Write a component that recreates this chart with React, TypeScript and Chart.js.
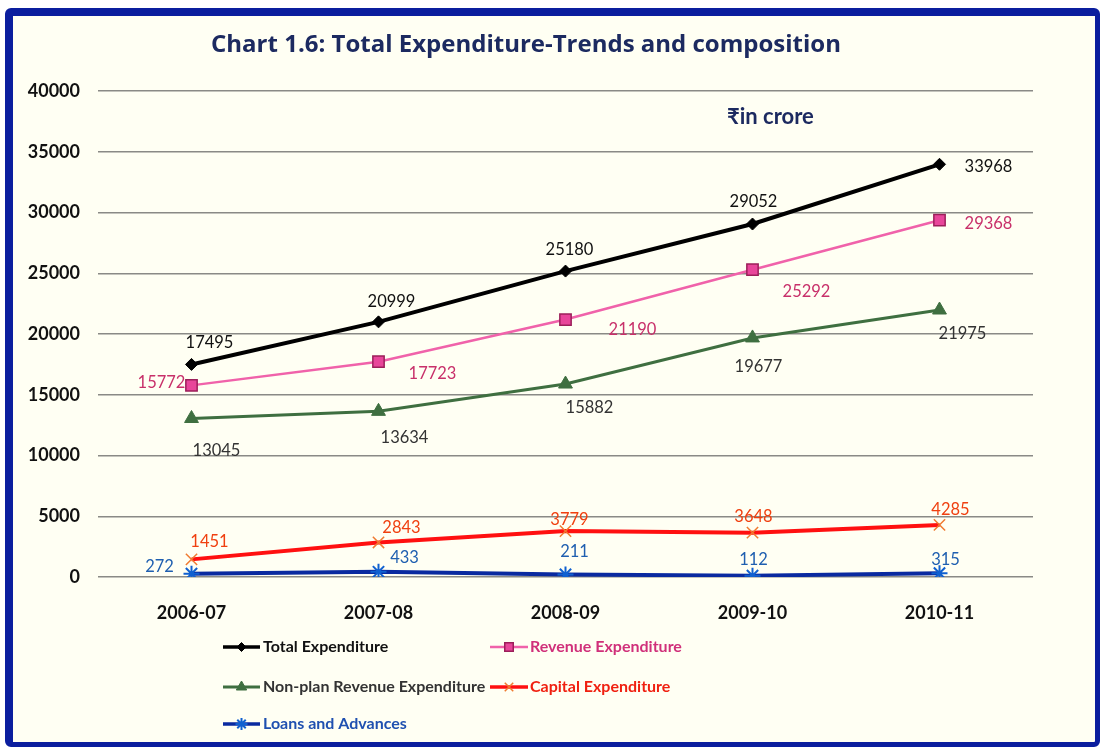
import React, { useEffect, useRef } from "react";
import { Chart, registerables } from "chart.js";
import { drawPoint } from "chart.js/helpers";

Chart.register(...registerables);

const categories = ["2006-07", "2007-08", "2008-09", "2009-10", "2010-11"];
const totalExpenditure = [17495, 20999, 25180, 29052, 33968];
const revenueExpenditure = [15772, 17723, 21190, 25292, 29368];
const nonPlanRevenueExpenditure = [13045, 13634, 15882, 19677, 21975];
const capitalExpenditure = [1451, 2843, 3779, 3648, 4285];
const loansAndAdvances = [272, 433, 211, 112, 315];
const yTicks = [0, 5000, 10000, 15000, 20000, 25000, 30000, 35000, 40000];

const seriesNames = [
  "Total Expenditure",
  "Revenue Expenditure",
  "Non-plan Revenue Expenditure",
  "Capital Expenditure",
  "Loans and Advances",
];

// label placement offsets (px) relative to each point
const labelOffsets: number[][][] = [
  [[18, -22], [13, -20], [4, -21], [1, -22], [49, 2]],
  [[-30, -3], [54, 12], [67, 10], [54, 22], [49, 3]],
  [[25, 32], [26, 26], [24, 24], [6, 29], [23, 24]],
  [[18, -18], [23, -15], [4, -11], [1, -16], [11, -15]],
  [[-32, -7], [26, -14], [9, -23], [1, -16], [6, -14]],
];

const FONT = "Lato, 'Noto Sans', 'DejaVu Sans', sans-serif";
const WIDE = "'Open Sans', 'Noto Sans', 'DejaVu Sans', sans-serif";

const styles = [
  { line: "#000000", fill: "#000000", stroke: "#000000", ps: "rectRot", r: 6, lw: 4, plw: 1, label: "#111111" },
  { line: "#f062aa", fill: "#e8469a", stroke: "#9c1f5a", ps: "rect", r: 8, lw: 2.5, plw: 1.5, label: "#c8306a" },
  { line: "#3f6f40", fill: "#3f6f40", stroke: "#3f6f40", ps: "triangle", r: 8, lw: 3, plw: 1, label: "#333333" },
  { line: "#ff1010", fill: "rgba(0,0,0,0)", stroke: "#f07a30", ps: "crossRot", r: 8, lw: 4, plw: 1.5, label: "#f04010" },
  { line: "#0a2aa0", fill: "#1060d0", stroke: "#1060d0", ps: "star", r: 8, lw: 4, plw: 2, label: "#1f5fb0" },
];

const legendText = ["#111111", "#d0307a", "#333333", "#f02010", "#1f50b0"];

const seriesData = [
  totalExpenditure,
  revenueExpenditure,
  nonPlanRevenueExpenditure,
  capitalExpenditure,
  loansAndAdvances,
];

const labelsPlugin = {
  id: "customLabels",
  afterDatasetsDraw(chart: any) {
    const ctx = chart.ctx;
    ctx.save();
    ctx.font = `16.5px ${FONT}`;
    ctx.textAlign = "center";
    ctx.textBaseline = "middle";
    chart.data.datasets.forEach((ds: any, di: number) => {
      const meta = chart.getDatasetMeta(di);
      ctx.fillStyle = styles[di].label;
      meta.data.forEach((pt: any, i: number) => {
        const [dx, dy] = labelOffsets[di][i];
        ctx.fillText(String(ds.data[i]), pt.x + dx, pt.y + dy);
      });
    });
    ctx.restore();
  },
};

const decorPlugin = {
  id: "decor",
  afterDraw(chart: any) {
    const ctx = chart.ctx;
    const area = chart.chartArea;
    ctx.save();
    // title
    ctx.fillStyle = "#1c2a60";
    ctx.font = `bold 24px ${WIDE}`;
    ctx.textAlign = "center";
    ctx.textBaseline = "middle";
    ctx.fillText("Chart 1.6: Total Expenditure-Trends and composition", 513, 29);
    // unit
    ctx.font = `bold 22px ${FONT}`;
    ctx.fillStyle = "#1c2a60";
    ctx.textAlign = "left";
    ctx.fillText("₹in crore", 714, 101);

    // legend
    const rows = [area.bottom + 70, area.bottom + 110, area.bottom + 147];
    const items = [
      { row: 0, x1: 210, x2: 247, text: 250 },
      { row: 0, x1: 477, x2: 515, text: 517 },
      { row: 1, x1: 210, x2: 247, text: 250 },
      { row: 1, x1: 477, x2: 515, text: 517 },
      { row: 2, x1: 210, x2: 247, text: 250 },
    ];
    items.forEach((it, i) => {
      const y = rows[it.row];
      const s = styles[i];
      ctx.strokeStyle = s.line;
      ctx.lineWidth = Math.min(s.lw, 3.5);
      ctx.beginPath();
      ctx.moveTo(it.x1, y);
      ctx.lineTo(it.x2, y);
      ctx.stroke();
      ctx.fillStyle = s.fill;
      ctx.strokeStyle = s.stroke;
      ctx.lineWidth = s.plw;
      drawPoint(ctx, { pointStyle: s.ps, radius: s.r * 0.75, rotation: 0, borderWidth: s.plw }, (it.x1 + it.x2) / 2, y);
      ctx.fillStyle = legendText[i];
      ctx.font = `bold 16px ${FONT}`;
      ctx.textAlign = "left";
      ctx.textBaseline = "middle";
      ctx.fillText(seriesNames[i], it.text, y);
    });
    ctx.restore();
  },
};

export default function App() {
  const ref = useRef<HTMLCanvasElement | null>(null);
  useEffect(() => {
    if (!ref.current) return;
    const chart = new Chart(ref.current, {
      type: "line",
      data: {
        labels: categories,
        datasets: seriesData.map((d, i) => ({
          label: seriesNames[i],
          data: d,
          borderColor: styles[i].line,
          borderWidth: styles[i].lw,
          backgroundColor: styles[i].fill,
          pointStyle: styles[i].ps as any,
          pointRadius: styles[i].r,
          pointBackgroundColor: styles[i].fill,
          pointBorderColor: styles[i].stroke,
          pointBorderWidth: styles[i].plw,
          tension: 0,
          fill: false,
        })),
      },
      options: {
        responsive: false,
        animation: false,
        layout: { padding: { top: 75, right: 62, left: 0, bottom: 0 } },
        plugins: {
          legend: { display: false },
          title: { display: false },
          tooltip: { enabled: false },
        },
        scales: {
          x: {
            offset: true,
            grid: { display: false, drawTicks: false },
            border: { display: false },
            ticks: {
              padding: 25,
              color: "#111111",
              font: { family: FONT, size: 18, weight: "bold" },
            },
            afterFit(scale: any) {
              scale.height = 165;
            },
          },
          y: {
            min: 0,
            max: 40000,
            afterBuildTicks(scale: any) {
              scale.ticks = yTicks.map((v) => ({ value: v }));
            },
            grid: { color: "#8a8a86", lineWidth: 1.5, drawTicks: false },
            border: { display: false },
            ticks: {
              padding: 18,
              color: "#111111",
              font: { family: FONT, size: 18, weight: "bold" },
              callback: (v: any) => String(v),
            },
            afterFit(scale: any) {
              scale.width = 85;
            },
          },
        },
      },
      plugins: [labelsPlugin, decorPlugin],
    });
    return () => chart.destroy();
  }, []);

  return (
    <div style={{ position: "fixed", left: 0, top: 0, width: 1106, height: 752, background: "#ffffff" }}>
      <div
        style={{
          position: "absolute",
          left: 5,
          top: 8,
          width: 1095,
          height: 739,
          boxSizing: "border-box",
          borderStyle: "solid",
          borderColor: "#0b1e9e",
          borderWidth: "8px 5px 5px 8px",
          borderRadius: 6,
          background: "#fffff3",
        }}
      >
        <canvas ref={ref} width={1082} height={726} style={{ display: "block" }} />
      </div>
    </div>
  );
}
